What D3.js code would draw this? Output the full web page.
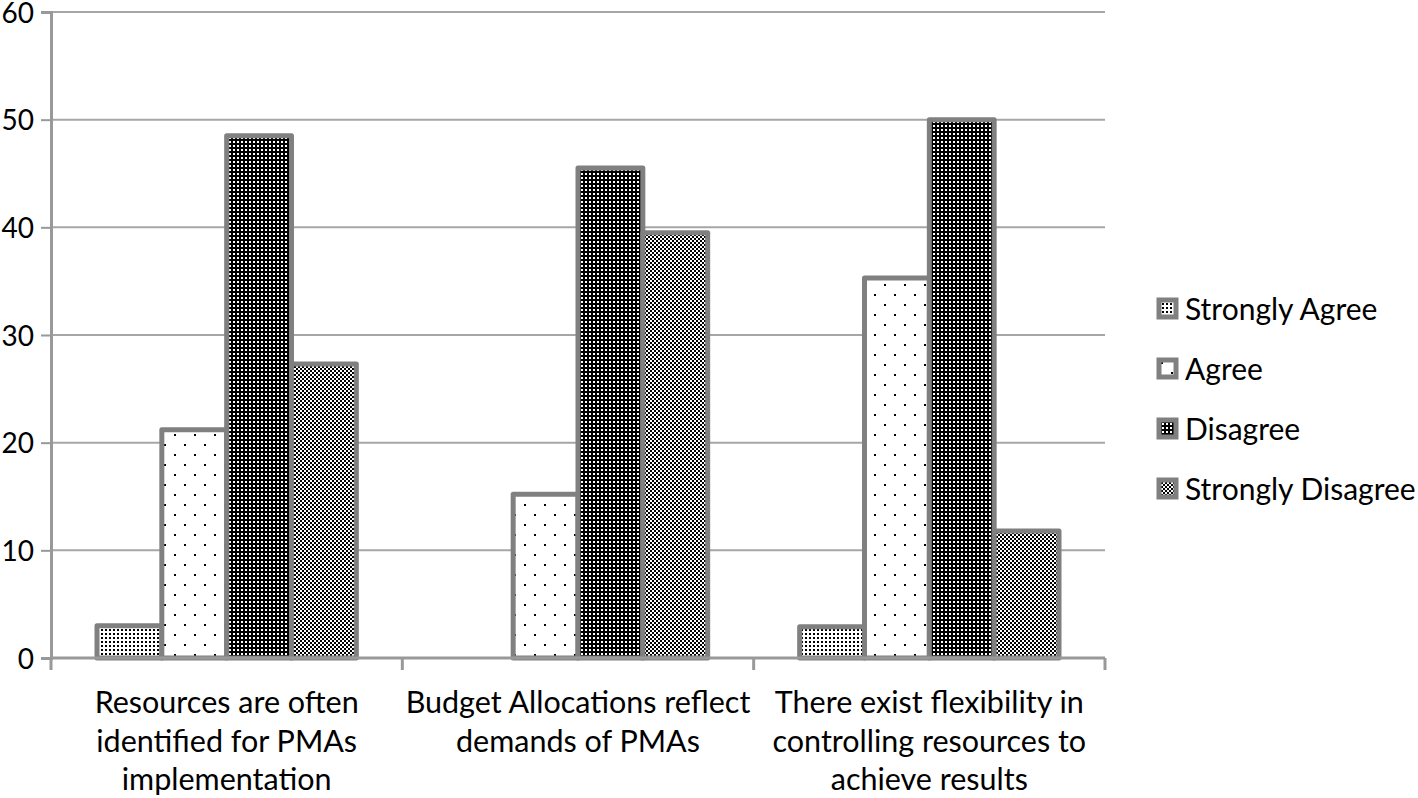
<!DOCTYPE html>
<html><head><meta charset="utf-8">
<script src="https://cdn.jsdelivr.net/npm/d3@7"></script>
<style>body{margin:0;background:#fff}svg{display:block}text{font-family:Lato,"Open Sans",sans-serif;fill:#000}</style>
</head><body>
<svg id="c" width="1418" height="798"></svg>
<script>
const categories = [
  ["Resources are often","identified for PMAs","implementation"],
  ["Budget Allocations reflect","demands of PMAs"],
  ["There exist flexibility in","controlling resources to","achieve results"]
];
const seriesNames = ["Strongly Agree","Agree","Disagree","Strongly Disagree"];
const stronglyAgree = [3, 0, 2.9];
const agree = [21.2, 15.2, 35.3];
const disagree = [48.5, 45.5, 50];
const stronglyDisagree = [27.3, 39.5, 11.8];
const yTicks = [0,10,20,30,40,50,60];
const seriesValues = [stronglyAgree, agree, disagree, stronglyDisagree];

const svg = d3.select("#c");
const L = 51, R = 1105, T = 12, B = 658;
const defs = svg.append("defs");
// patterns
const p1 = defs.append("pattern").attr("id","pSA").attr("patternUnits","userSpaceOnUse").attr("width",4).attr("height",4);
p1.append("rect").attr("width",4).attr("height",4).attr("fill","#fff");
p1.append("rect").attr("x",1).attr("y",1).attr("width",2).attr("height",2).attr("fill","#000");
const p2 = defs.append("pattern").attr("id","pA").attr("patternUnits","userSpaceOnUse").attr("width",20).attr("height",20);
p2.append("rect").attr("width",20).attr("height",20).attr("fill","#fff");
p2.append("rect").attr("x",4).attr("y",4).attr("width",2).attr("height",2).attr("fill","#000");
p2.append("rect").attr("x",14).attr("y",14).attr("width",2).attr("height",2).attr("fill","#000");
const p3 = defs.append("pattern").attr("id","pD").attr("patternUnits","userSpaceOnUse").attr("width",4).attr("height",4);
p3.append("rect").attr("width",4).attr("height",4).attr("fill","#000");
p3.append("rect").attr("x",1).attr("y",1).attr("width",2).attr("height",2).attr("fill","#fff");
const p4 = defs.append("pattern").attr("id","pSD").attr("patternUnits","userSpaceOnUse").attr("width",4).attr("height",4);
p4.append("rect").attr("width",4).attr("height",4).attr("fill","#fff");
p4.append("rect").attr("x",0).attr("y",0).attr("width",2).attr("height",2).attr("fill","#000");
p4.append("rect").attr("x",2).attr("y",2).attr("width",2).attr("height",2).attr("fill","#000");
const fills = ["url(#pSA)","url(#pA)","url(#pD)","url(#pSD)"];

const y = d3.scaleLinear().domain([0,60]).range([B,T]);
const x0 = d3.scaleBand().domain(d3.range(categories.length)).range([L,R]).paddingInner(0).paddingOuter(0);
const x1 = d3.scaleBand().domain(d3.range(seriesNames.length)).range([46, x0.bandwidth()-46]).padding(0);

// gridlines
svg.append("g").selectAll("line").data(yTicks.filter(d=>d>0)).join("line")
  .attr("x1",L).attr("x2",R).attr("y1",d=>y(d)).attr("y2",d=>y(d))
  .attr("stroke","#a6a6a6").attr("stroke-width",2);

// y axis
const ya = svg.append("g").attr("transform",`translate(${L},0)`)
  .call(d3.axisLeft(y).tickValues(yTicks).tickSize(10).tickPadding(7));
ya.select(".domain").attr("stroke","#999").attr("stroke-width",3);
ya.selectAll(".tick line").attr("stroke","#999").attr("stroke-width",2);
ya.selectAll(".tick text").attr("font-size",28).attr("font-family","Lato").attr("fill","#000").attr("dy","0.36em");

// bars
const g = svg.append("g");
categories.forEach((c,ci)=>{
  seriesValues.forEach((s,si)=>{
    const v = s[ci];
    if (v<=0) return;
    g.append("rect")
      .attr("x", x0(ci)+x1(si)).attr("width", x1.bandwidth())
      .attr("y", y(v)).attr("height", B - y(v))
      .attr("fill", fills[si]).attr("stroke","#808080").attr("stroke-width",5)
      .attr("stroke-linejoin","round");
  });
});

// x axis
const xa = svg.append("g");
xa.append("line").attr("x1",L).attr("x2",R).attr("y1",B).attr("y2",B).attr("stroke","#999").attr("stroke-width",3);
xa.selectAll("line.t").data(d3.range(categories.length+1)).join("line").attr("class","t")
  .attr("x1",d=>L + d*x0.bandwidth()).attr("x2",d=>L + d*x0.bandwidth())
  .attr("y1",B).attr("y2",B+12).attr("stroke","#999").attr("stroke-width",3);
categories.forEach((lines,ci)=>{
  const t = svg.append("text").attr("text-anchor","middle").attr("font-size",30.5)
    .attr("x", x0(ci)+x0.bandwidth()/2);
  lines.forEach((ln,i)=>t.append("tspan").attr("x",x0(ci)+x0.bandwidth()/2).attr("y",713+i*38.5).text(ln));
});

// legend
const lg = svg.append("g").attr("transform","translate(1157,298)");
seriesNames.forEach((n,i)=>{
  const row = lg.append("g").attr("transform",`translate(0,${i*60})`);
  row.append("rect").attr("x",2).attr("y",2).attr("width",17).attr("height",17)
    .attr("fill",fills[i]).attr("stroke","#808080").attr("stroke-width",5);
  row.append("text").attr("x",28).attr("y",11).attr("dy","0.36em").attr("font-size",30).text(n);
});
</script>
</body></html>
